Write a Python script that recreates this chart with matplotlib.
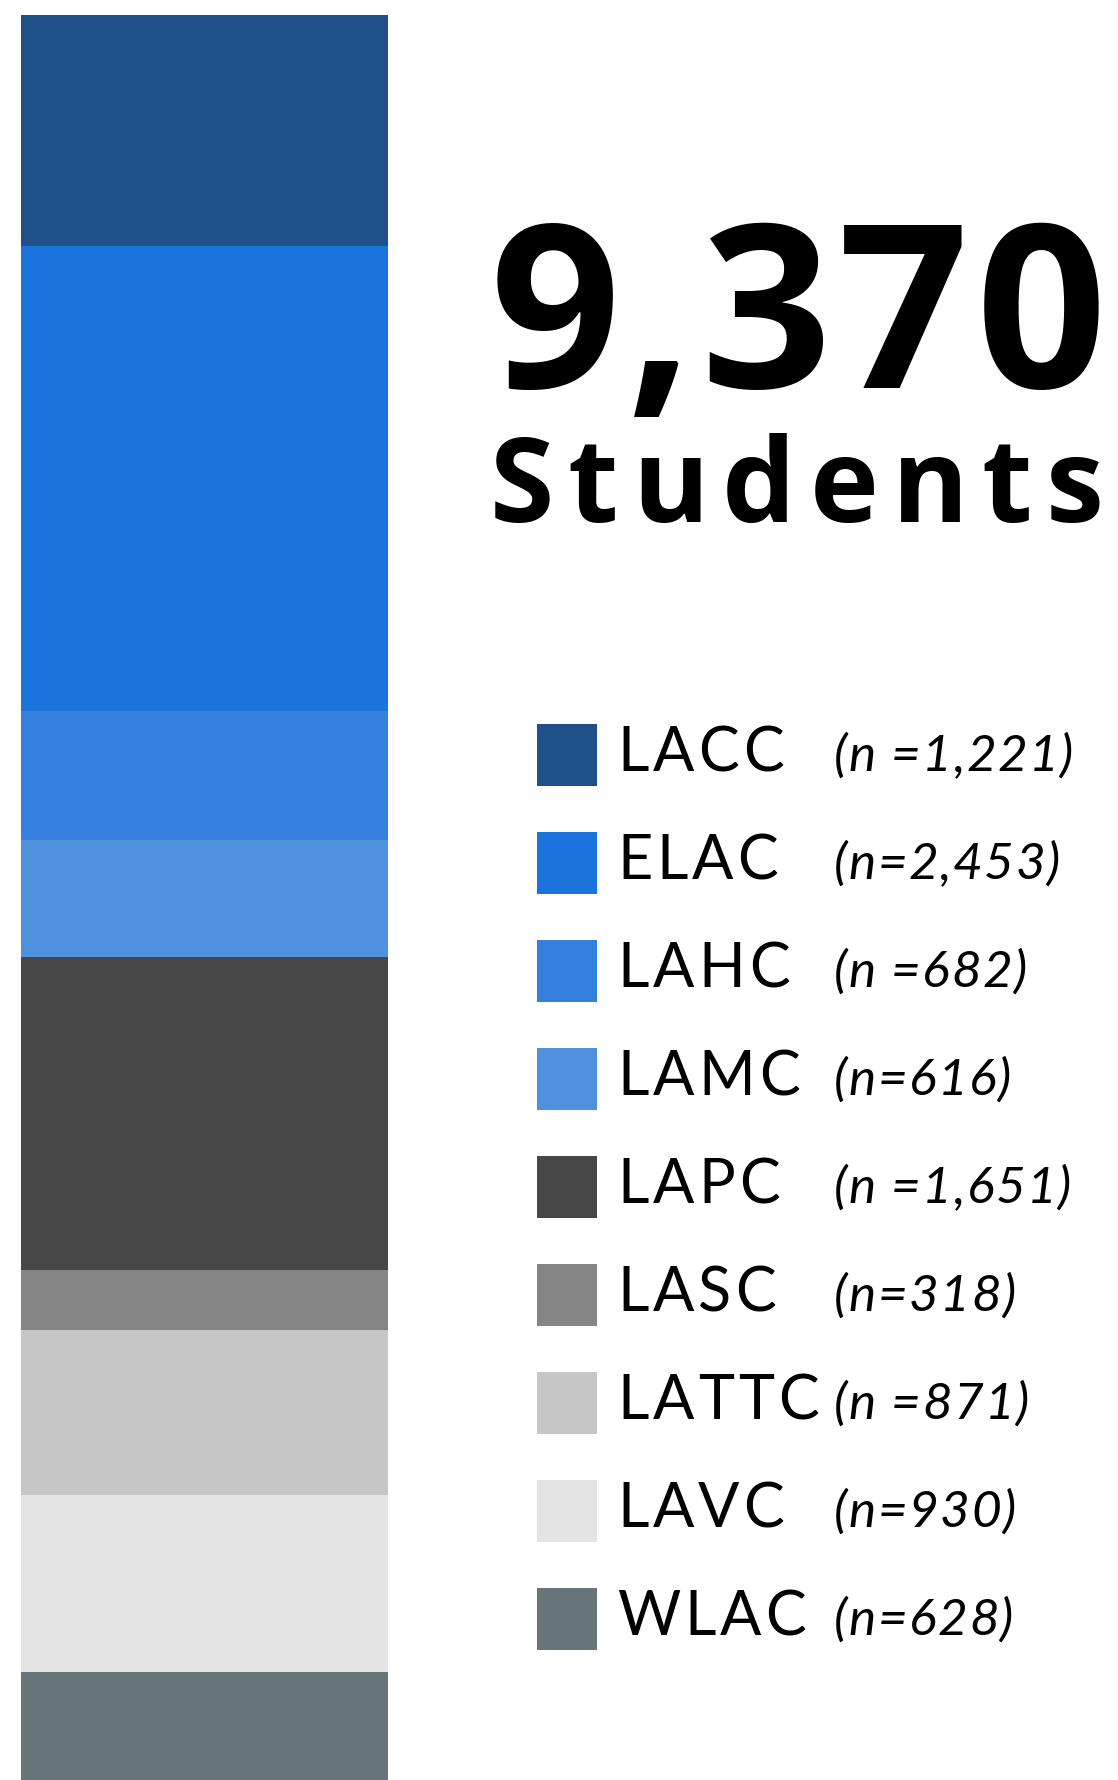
import matplotlib
matplotlib.use('Agg')
import matplotlib.pyplot as plt

# data
colleges = ['LACC', 'ELAC', 'LAHC', 'LAMC', 'LAPC', 'LASC', 'LATTC', 'LAVC', 'WLAC']
counts = [1221, 2453, 682, 616, 1651, 318, 871, 930, 628]
n_labels = ['(n =1,221)', '(n=2,453)', '(n =682)', '(n=616)', '(n =1,651)',
            '(n=318)', '(n =871)', '(n=930)', '(n=628)']
colors = ['#1f5087', '#1b74dc', '#3480dc', '#5091de', '#474747',
          '#858585', '#c6c6c6', '#e4e4e4', '#677478']
total_label = '9,370'
total_caption = 'Students'

W, H = 1118, 1780
fig = plt.figure(figsize=(W / 100, H / 100), dpi=100)

# stacked bar on the left, runs off the bottom edge
ax = fig.add_axes([21 / W, 0, (388 - 21) / W, (H - 15) / H])
bottom = 0
for name, v, col in zip(colleges, counts, colors):
    ax.bar(0, v, bottom=bottom, width=1, color=col, linewidth=0)
    bottom += v
ax.set_xlim(-0.5, 0.5)
ax.set_ylim(9314, 0)
ax.axis('off')

# overlay axes in pixel units for the text and legend
ov = fig.add_axes([0, 0, 1, 1])
ov.set_xlim(0, W)
ov.set_ylim(H, 0)
ov.axis('off')

renderer = fig.canvas.get_renderer()


def text_width(s, **kw):
    if not s.strip():
        return 0
    t = ov.text(0, 0, s, **kw)
    w = t.get_window_extent(renderer).width
    t.remove()
    return w


def tracked(x, y, s, tracking=0, right=None, **kw):
    # draw s one letter at a time with extra letter spacing
    if right is not None:
        natural = text_width(s, **kw)
        tracking = (right - x - natural) / (len(s) - 1)
    for i, ch in enumerate(s):
        if ch == ' ':
            continue
        left = x + text_width(s[:i + 1], **kw) - text_width(ch, **kw) + i * tracking
        ov.text(left, y, ch, ha='left', va='baseline', **kw)


# big total
tracked(490, 388, total_label, right=1106, family='Open Sans', weight='bold',
        fontsize=165, color='black')
tracked(490, 522, total_caption, right=1104, family='Open Sans', weight='bold',
        fontsize=84, color='black')

# legend rows
for i, (name, lab, col) in enumerate(zip(colleges, n_labels, colors)):
    base = 771 + i * 108
    ov.add_patch(plt.Rectangle((537, base - 47), 60, 62, color=col, linewidth=0))
    tracked(617, base, name, tracking=4, family='Lato', fontsize=44, color='black')
    tracked(834, base, lab, tracking=1.5, family='Lato', style='italic',
            fontsize=37, color='black')

fig.savefig('out.png', dpi=100)
